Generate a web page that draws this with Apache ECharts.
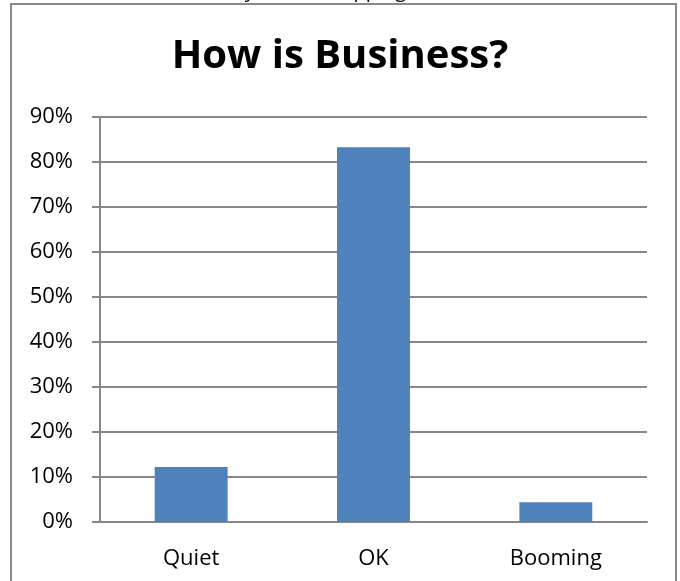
<!DOCTYPE html>
<html>
<head>
<meta charset="utf-8">
<style>
  html, body { margin: 0; padding: 0; background: #fff; }
  #main { width: 680px; height: 581px; }
</style>
</head>
<body>
<div id="main"></div>
<script src="https://cdn.jsdelivr.net/npm/echarts@6/dist/echarts.min.js"></script>
<script>
    // data
    var categories = ['Quiet', 'OK', 'Booming'];
    var shares = [0.122, 0.833, 0.044];
    var yMax = 0.9;
    var yStep = 0.1;

    var gray = '#878787';
    var chart = echarts.init(document.getElementById('main'));
    var option = {
        backgroundColor: '#fff',
        animation: false,
        title: {
            text: 'How is Business?',
            left: 'center',
            top: 32,
            textStyle: {
                fontFamily: 'Open Sans',
                fontWeight: 'bold',
                fontSize: 40,
                color: '#000'
            }
        },
        grid: {
            left: 100,
            right: 33,
            top: 117,
            bottom: 59
        },
        xAxis: {
            type: 'category',
            data: categories,
            axisLine: { lineStyle: { color: gray, width: 2 } },
            axisTick: { show: false },
            axisLabel: {
                margin: 26,
                fontFamily: 'Open Sans',
                fontSize: 22,
                color: '#000'
            }
        },
        yAxis: {
            type: 'value',
            min: 0,
            max: yMax,
            interval: yStep,
            axisLine: { show: true, lineStyle: { color: gray, width: 2 } },
            axisTick: { show: true, length: 8, lineStyle: { color: gray, width: 2 } },
            splitLine: { lineStyle: { color: gray, width: 2 } },
            axisLabel: {
                margin: 27,
                fontFamily: 'Open Sans',
                fontSize: 22,
                color: '#000',
                formatter: function (v) { return Math.round(v * 100) + '%'; }
            }
        },
        series: [{
            type: 'bar',
            data: shares,
            barCategoryGap: '60%',
            itemStyle: { color: '#4F81BD' }
        }],
        graphic: [
            // outer chart frame (bottom edge is off the page)
            {
                type: 'rect',
                shape: { x: 11, y: 4, width: 665, height: 620 },
                style: { fill: 'none', stroke: '#8a8a8a', lineWidth: 2 },
                z: 10
            },
            // line of document text sitting above the chart, mostly cut off
            {
                type: 'text',
                left: 192,
                top: -19,
                style: {
                    text: 'Survey of the shopping',
                    font: '20px "Open Sans"',
                    fill: '#000'
                },
                z: 5
            },
            {
                type: 'rect',
                shape: { x: 0, y: 5, width: 680, height: 20 },
                style: { fill: '#fff' },
                z: 6
            }
        ]
    };
    chart.setOption(option);
</script>
</body>
</html>
